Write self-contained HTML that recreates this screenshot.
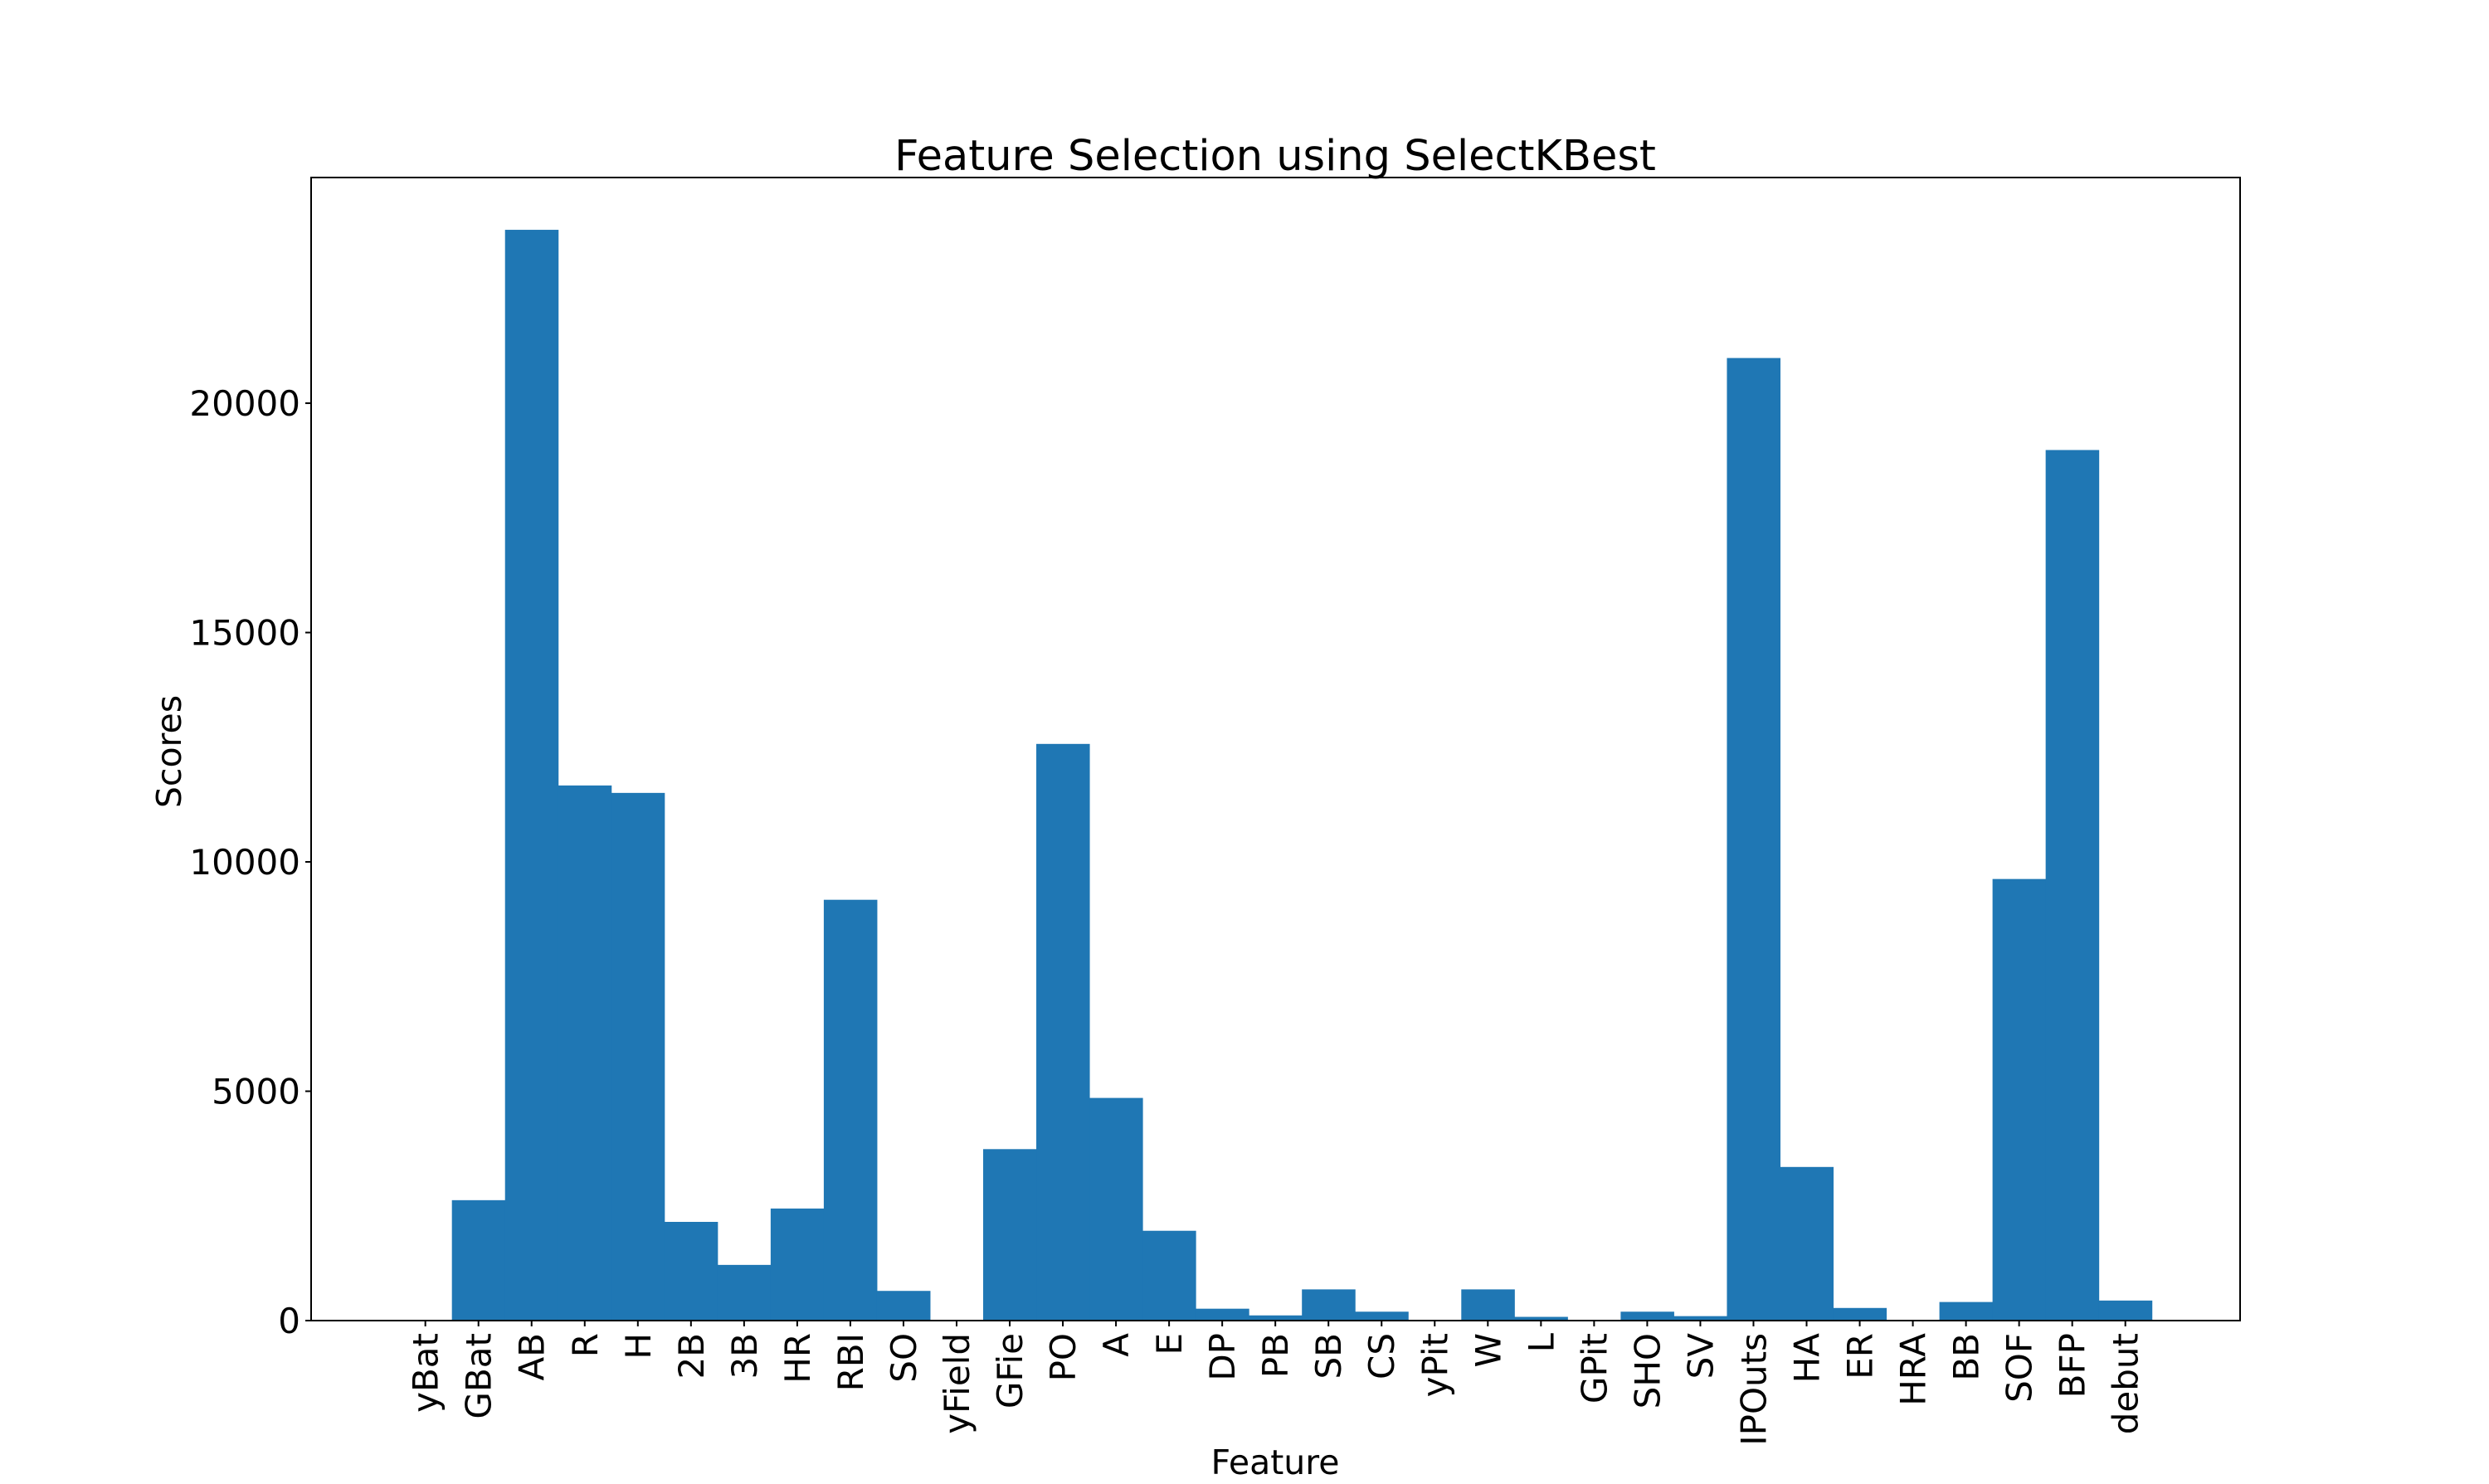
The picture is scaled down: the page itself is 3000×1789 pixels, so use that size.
<!DOCTYPE html>
<html><head><meta charset="utf-8"><style>
html,body{margin:0;padding:0;background:#fff}
svg{display:block}
text{font-family:"DejaVu Sans","Liberation Sans",sans-serif;fill:#000}
</style></head><body>
<svg id="chart" width="3000" height="1789" viewBox="0 0 3000 1789" xmlns="http://www.w3.org/2000/svg">
<text x="1537" y="205" font-size="51" text-anchor="middle">Feature Selection using SelectKBest</text>
<g id="bars"></g>
<rect x="375" y="214" width="2325" height="1378" fill="none" stroke="#000" stroke-width="2"/>
<g id="yaxis"></g>
<g id="xaxis"></g>
<text transform="translate(218,906) rotate(-90)" font-size="41" text-anchor="middle">Scores</text>
<text x="1537" y="1777" font-size="41" text-anchor="middle">Feature</text>
</svg>
<script>
const categories = ["yBat","GBat","AB","R","H","2B","3B","HR","RBI","SO","yField","GFie","PO","A","E","DP","PB","SB","CS","yPit","W","L","GPit","SHO","SV","IPOuts","HA","ER","HRA","BB","SOF","BFP","debut"];
const scores = [0,2625,23780,11666,11504,2152,1214,2443,9174,647,0,3738,12572,4854,1958,259,113,680,194,0,680,81,0,194,97,20985,3349,275,0,405,9627,18979,437];
const yTicks = [0,5000,10000,15000,20000];
const yTickLabels = ["0","5000","10000","15000","20000"];

const NS = "http://www.w3.org/2000/svg";
const plotLeft = 375, plotRight = 2700, plotTop = 214, plotBottom = 1592;
const xMin = -2.15, xMax = 34.16, yMin = 0, yMax = 24920;
function xs(v){ return plotLeft + (v - xMin) / (xMax - xMin) * (plotRight - plotLeft); }
function ys(v){ return plotBottom - (v - yMin) / (yMax - yMin) * (plotBottom - plotTop); }

const barsG = document.getElementById('bars');
const bw = xs(1) - xs(0);
categories.forEach((c, i) => {
  const r = document.createElementNS(NS, 'rect');
  const x0 = xs(i - 0.5), y0 = ys(scores[i]);
  r.setAttribute('x', x0);
  r.setAttribute('y', y0);
  r.setAttribute('width', bw + 0.5);
  r.setAttribute('height', Math.max(0, plotBottom - y0));
  r.setAttribute('fill', '#1f77b4');
  
  
  barsG.appendChild(r);
});

const yG = document.getElementById('yaxis');
yTicks.forEach((t, i) => {
  const y = ys(t);
  const l = document.createElementNS(NS, 'line');
  l.setAttribute('x1', plotLeft - 7); l.setAttribute('x2', plotLeft);
  l.setAttribute('y1', y); l.setAttribute('y2', y);
  l.setAttribute('stroke', '#000'); l.setAttribute('stroke-width', '2');
  
  
  yG.appendChild(l);
  const tx = document.createElementNS(NS, 'text');
  tx.setAttribute('x', plotLeft - 13); tx.setAttribute('y', y + 15);
  tx.setAttribute('font-size', '42'); tx.setAttribute('text-anchor', 'end');
  tx.textContent = yTickLabels[i];
  
  
  yG.appendChild(tx);
});

const xG = document.getElementById('xaxis');
categories.forEach((c, i) => {
  const x = xs(i);
  const l = document.createElementNS(NS, 'line');
  l.setAttribute('x1', x); l.setAttribute('x2', x);
  l.setAttribute('y1', plotBottom); l.setAttribute('y2', plotBottom + 7);
  l.setAttribute('stroke', '#000'); l.setAttribute('stroke-width', '2');
  
  
  xG.appendChild(l);
  const tx = document.createElementNS(NS, 'text');
  tx.setAttribute('transform', 'translate(' + (x + 15) + ',' + (plotBottom + 15) + ') rotate(-90)');
  tx.setAttribute('font-size', '42'); tx.setAttribute('text-anchor', 'end');
  tx.textContent = c;
  
  
  xG.appendChild(tx);
});
</script>
</body></html>
